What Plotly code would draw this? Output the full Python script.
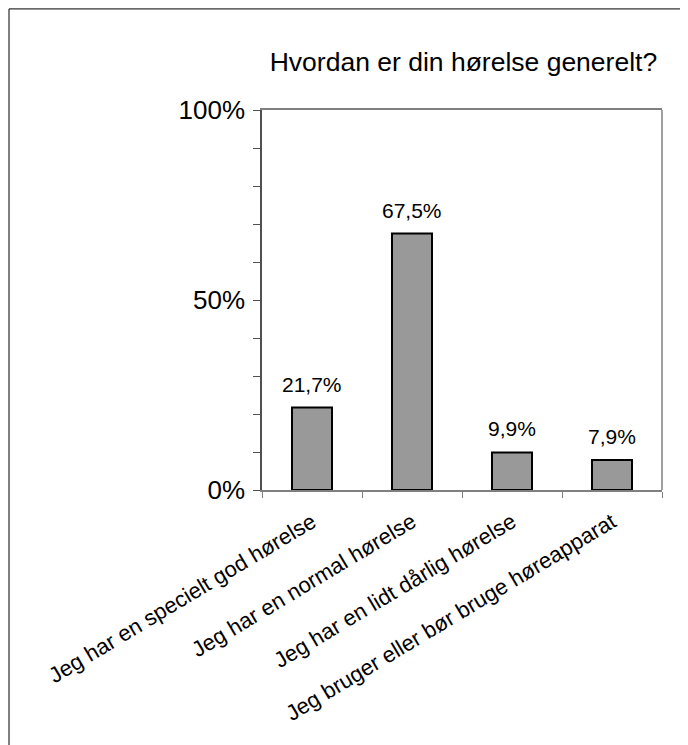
import plotly.graph_objects as go

# data
categories = [
    "Jeg har en specielt god hørelse",
    "Jeg har en normal hørelse",
    "Jeg har en lidt dårlig hørelse",
    "Jeg bruger eller bør bruge høreapparat",
]
values = [0.217, 0.675, 0.099, 0.079]
value_labels = ["21,7%", "67,5%", "9,9%", "7,9%"]
title_text = "Hvordan er din hørelse generelt?"

FONT = "Liberation Sans, Arial, sans-serif"

fig = go.Figure(go.Bar(
    x=categories,
    y=values,
    width=0.4,
    marker=dict(color="#999999", line=dict(color="black", width=2)),
    hoverinfo="skip",
))

# value labels above bars
for cat, val, lab in zip(categories, values, value_labels):
    fig.add_annotation(
        x=cat, y=val, text=lab, showarrow=False,
        yanchor="bottom", yshift=10,
        font=dict(size=21, color="black", family=FONT),
    )

# left/top outer border of the chart area
fig.add_shape(type="line", xref="paper", yref="paper",
              x0=-0.6325, x1=2, y0=1.266, y1=1.266,
              line=dict(color="black", width=1))
fig.add_shape(type="line", xref="paper", yref="paper",
              x0=-0.6325, x1=-0.6325, y0=1.266, y1=-2,
              line=dict(color="black", width=1))
# right plot border
fig.add_shape(type="line", xref="paper", yref="paper",
              x0=1, x1=1, y0=0, y1=1,
              line=dict(color="#808080", width=1.5))

fig.update_layout(
    width=688,
    height=745,
    margin=dict(l=254, r=34, t=102, b=263),
    paper_bgcolor="white",
    plot_bgcolor="white",
    showlegend=False,
    bargap=0.6,
    font=dict(family=FONT, color="black"),
    title=dict(
        text=title_text,
        x=0.662, xanchor="center",
        y=0.928, yref="container", yanchor="middle",
        font=dict(size=26.5, family=FONT, color="black"),
    ),
)

fig.update_xaxes(
    type="category",
    showgrid=False,
    showline=True, linecolor="#808080", linewidth=1.5, mirror=True,
    ticks="outside", tickson="boundaries", ticklen=6, tickcolor="#808080",
    tickangle=-31,
    ticklabelstandoff=9,
    tickfont=dict(size=22, family=FONT, color="black"),
)

fig.update_yaxes(
    range=[0, 1],
    tickvals=[0, 0.5, 1],
    tickformat=".0%",
    showgrid=False,
    zeroline=False,
    showline=True, linecolor="#505050", linewidth=1.5,
    ticks="outside", ticklen=7, tickcolor="#505050",
    minor=dict(dtick=0.1, ticks="outside", ticklen=7, tickcolor="#505050"),
    ticklabelstandoff=3,
    tickfont=dict(size=26, family=FONT, color="black"),
)

fig.write_html("out.html")
